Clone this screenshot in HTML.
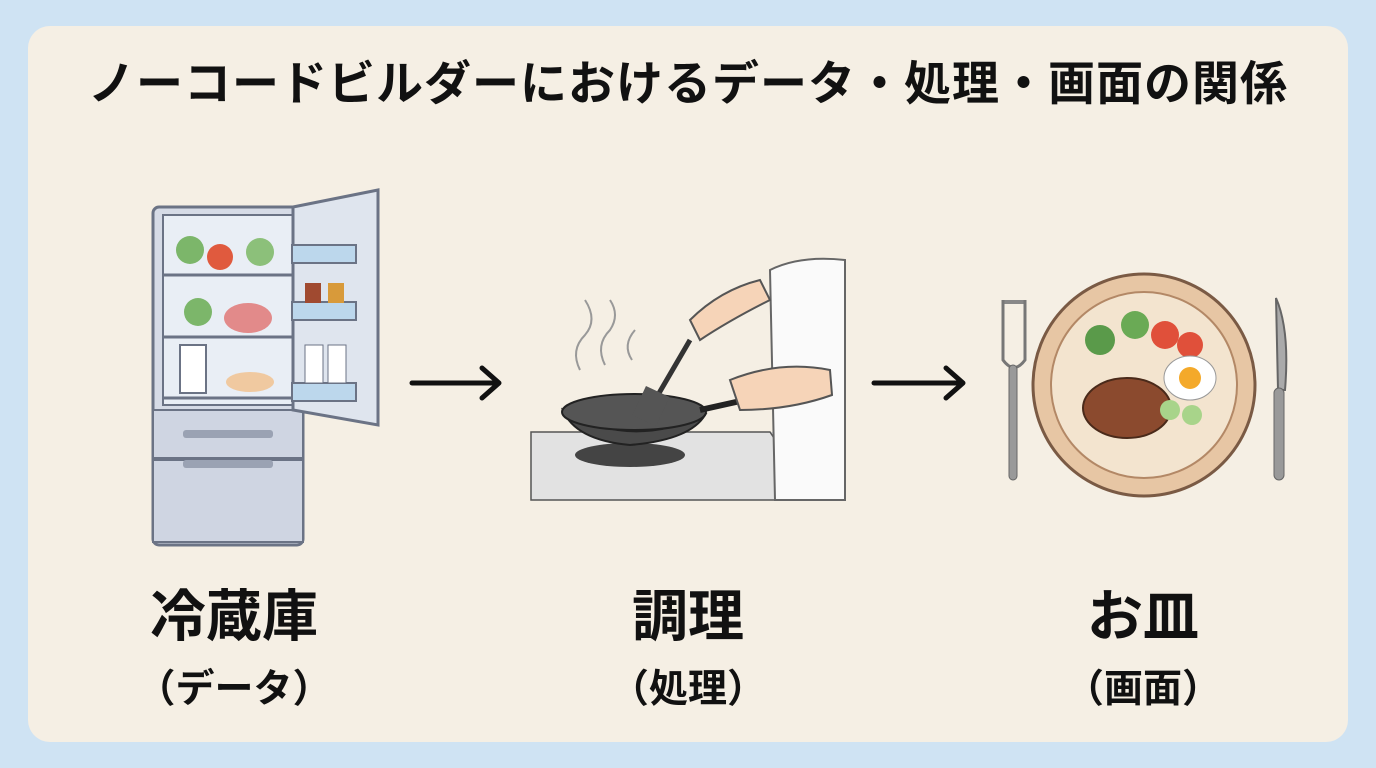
<!DOCTYPE html>
<html><head><meta charset="utf-8"><style>
html,body{margin:0;padding:0}
body{width:1376px;height:768px;background:#cfe3f3;position:relative;overflow:hidden;font-family:"Liberation Sans","Noto Sans CJK JP",sans-serif}
.card{position:absolute;left:28px;top:26px;width:1320px;height:716px;background:#f5efe4;border-radius:22px}
.t{position:absolute;left:0;width:1376px;text-align:center;top:54px;font-size:47px;line-height:60px;font-weight:bold;color:#111;letter-spacing:1px}
.l{position:absolute;text-align:center;width:300px;font-weight:bold;color:#111}
.a{font-size:56px;top:572px}
.b{font-size:39px;top:658px}
svg{position:absolute;left:0;top:0}
</style></head><body>
<div class="card"></div>
<div class="t">ノーコードビルダーにおけるデータ・処理・画面の関係</div>
<svg width="1376" height="768">
<rect x="153" y="207" width="150" height="338" rx="6" fill="#d6dbe6" stroke="#6b7385" stroke-width="3"/>
<rect x="163" y="215" width="130" height="190" fill="#e9eef5" stroke="#6b7385" stroke-width="2"/>
<line x1="163" y1="275" x2="293" y2="275" stroke="#6b7385" stroke-width="3"/>
<line x1="163" y1="337" x2="293" y2="337" stroke="#6b7385" stroke-width="3"/>
<line x1="163" y1="398" x2="293" y2="398" stroke="#6b7385" stroke-width="3"/>
<rect x="153" y="410" width="150" height="48" fill="#cfd5e2" stroke="#6b7385" stroke-width="2"/>
<rect x="153" y="460" width="150" height="82" fill="#cfd5e2" stroke="#6b7385" stroke-width="2"/>
<rect x="183" y="430" width="90" height="8" rx="3" fill="#9aa2b3"/>
<rect x="183" y="460" width="90" height="8" rx="3" fill="#9aa2b3"/>
<polygon points="293,207 378,190 378,425 293,410" fill="#dfe5ee" stroke="#6b7385" stroke-width="3"/>
<rect x="292" y="245" width="64" height="18" fill="#bcd7ec" stroke="#6b7385" stroke-width="2"/>
<rect x="292" y="302" width="64" height="18" fill="#bcd7ec" stroke="#6b7385" stroke-width="2"/>
<rect x="292" y="383" width="64" height="18" fill="#bcd7ec" stroke="#6b7385" stroke-width="2"/>
<circle cx="190" cy="250" r="14" fill="#7cb66a"/><circle cx="220" cy="257" r="13" fill="#e05a3e"/><circle cx="260" cy="252" r="14" fill="#8cc07a"/>
<circle cx="198" cy="312" r="14" fill="#7cb66a"/><ellipse cx="248" cy="318" rx="24" ry="15" fill="#e28a8a"/>
<rect x="180" y="345" width="26" height="48" fill="#fff" stroke="#6b7385" stroke-width="2"/>
<ellipse cx="250" cy="382" rx="24" ry="10" fill="#f0c9a0"/>
<rect x="305" y="345" width="18" height="38" fill="#fff" stroke="#6b7385"/><rect x="328" y="345" width="18" height="38" fill="#fff" stroke="#6b7385"/>
<rect x="305" y="283" width="16" height="20" fill="#a04a30"/><rect x="328" y="283" width="16" height="20" fill="#d89a3a"/>
<g stroke="#111" stroke-width="5" fill="none" stroke-linecap="round" stroke-linejoin="round">
<line x1="412" y1="383" x2="498" y2="383"/><polyline points="482,368 499,383 482,398"/>
<line x1="874" y1="383" x2="962" y2="383"/><polyline points="946,368 963,383 946,398"/>
</g>
<rect x="531" y="432" width="282" height="68" fill="#d8d8d8"/>
<polygon points="531,432 770,432 815,500 531,500" fill="#e2e2e2" stroke="#555" stroke-width="1.5"/>
<path d="M770 270 Q800 255 845 260 L845 500 L775 500 Z" fill="#fafafa" stroke="#666" stroke-width="2"/>
<ellipse cx="630" cy="455" rx="55" ry="12" fill="#444"/>
<path d="M563 410 Q630 450 705 415 Q690 440 630 445 Q575 440 563 410 Z" fill="#4a4a4a" stroke="#222" stroke-width="2"/>
<ellipse cx="634" cy="412" rx="72" ry="18" fill="#555" stroke="#222" stroke-width="2"/>
<line x1="700" y1="410" x2="745" y2="400" stroke="#222" stroke-width="6"/>
<path d="M730 380 Q780 360 830 370 L832 395 Q790 410 740 410 Z" fill="#f6d4b8" stroke="#555" stroke-width="2"/>
<path d="M690 320 Q720 290 760 280 L770 300 Q730 320 700 340 Z" fill="#f6d4b8" stroke="#555" stroke-width="2"/>
<line x1="690" y1="340" x2="655" y2="400" stroke="#333" stroke-width="5"/>
<rect x="638" y="390" width="26" height="32" fill="#555" transform="rotate(25 651 406)"/>
<g stroke="#999" stroke-width="2" fill="none"><path d="M580 370 Q570 350 585 335 Q598 320 585 300"/><path d="M605 365 Q595 345 610 330 Q620 315 610 300"/><path d="M632 360 Q622 345 635 330"/></g>
<rect x="1003" y="300" width="22" height="4" fill="#888"/>
<path d="M1003 300 L1003 360 Q1014 375 1025 360 L1025 300" fill="none" stroke="#777" stroke-width="3"/>
<rect x="1009" y="365" width="8" height="115" rx="4" fill="#999" stroke="#666"/>
<path d="M1276 298 Q1290 330 1285 390 L1278 390 Z" fill="#aaa" stroke="#666" stroke-width="2"/>
<rect x="1274" y="388" width="10" height="92" rx="5" fill="#999" stroke="#666"/>
<circle cx="1144" cy="385" r="111" fill="#e7c6a4" stroke="#7a5a44" stroke-width="3"/>
<circle cx="1144" cy="385" r="93" fill="#f3e4cf" stroke="#b38866" stroke-width="2"/>
<ellipse cx="1127" cy="408" rx="44" ry="30" fill="#8b4a2e" stroke="#4a2a1a" stroke-width="2"/>
<circle cx="1100" cy="340" r="15" fill="#5a9a4a"/><circle cx="1135" cy="325" r="14" fill="#6aaa55"/>
<circle cx="1165" cy="335" r="14" fill="#e0503a"/><circle cx="1190" cy="345" r="13" fill="#e0503a"/>
<ellipse cx="1190" cy="378" rx="26" ry="22" fill="#fff" stroke="#999"/><circle cx="1190" cy="378" r="11" fill="#f4a92a"/>
<circle cx="1170" cy="410" r="10" fill="#a8d48a"/><circle cx="1192" cy="415" r="10" fill="#a8d48a"/>
</svg>
<div class="l a" style="left:84px">冷蔵庫</div>
<div class="l b" style="left:84px">（データ）</div>
<div class="l a" style="left:538px">調理</div>
<div class="l b" style="left:538px">（処理）</div>
<div class="l a" style="left:993px">お皿</div>
<div class="l b" style="left:993px">（画面）</div>
</body></html>
